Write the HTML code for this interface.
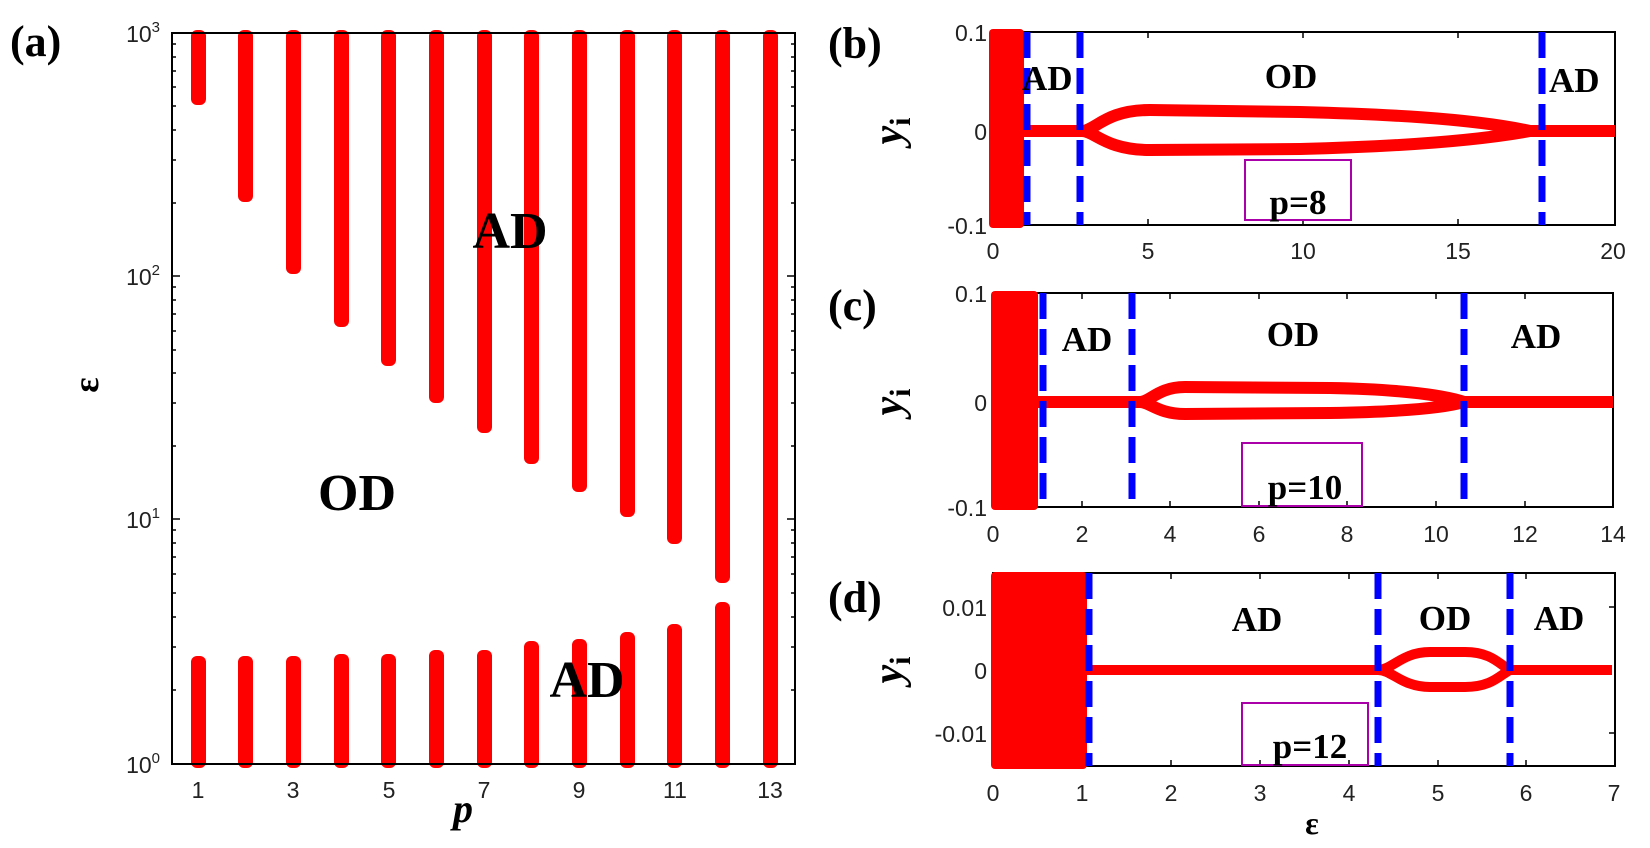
<!DOCTYPE html>
<html><head><meta charset="utf-8"><style>html,body{margin:0;padding:0;background:#fff}svg{display:block}</style></head>
<body>
<svg width="1650" height="848" viewBox="0 0 1650 848" xmlns="http://www.w3.org/2000/svg" font-family="Liberation Sans, sans-serif">
<rect width="1650" height="848" fill="#fff"/>
<!-- Panel a -->
<g fill="#f00">
<rect x="191" y="30" width="15" height="75" rx="6"/>
<rect x="238" y="30" width="15" height="172" rx="6"/>
<rect x="286" y="30" width="15" height="244" rx="6"/>
<rect x="334" y="30" width="15" height="297" rx="6"/>
<rect x="381" y="30" width="15" height="336" rx="6"/>
<rect x="429" y="30" width="15" height="373" rx="6"/>
<rect x="477" y="30" width="15" height="403" rx="6"/>
<rect x="524" y="30" width="15" height="434" rx="6"/>
<rect x="572" y="30" width="15" height="462" rx="6"/>
<rect x="620" y="30" width="15" height="487" rx="6"/>
<rect x="667" y="30" width="15" height="514" rx="6"/>
<rect x="715" y="30" width="15" height="553" rx="6"/>
<rect x="763" y="30" width="15" height="738" rx="6"/>
<rect x="191" y="656" width="15" height="112" rx="6"/>
<rect x="238" y="656" width="15" height="112" rx="6"/>
<rect x="286" y="656" width="15" height="112" rx="6"/>
<rect x="334" y="654" width="15" height="114" rx="6"/>
<rect x="381" y="654" width="15" height="114" rx="6"/>
<rect x="429" y="650" width="15" height="118" rx="6"/>
<rect x="477" y="650" width="15" height="118" rx="6"/>
<rect x="524" y="641" width="15" height="127" rx="6"/>
<rect x="572" y="639" width="15" height="129" rx="6"/>
<rect x="620" y="632" width="15" height="136" rx="6"/>
<rect x="667" y="624" width="15" height="144" rx="6"/>
<rect x="715" y="602" width="15" height="166" rx="6"/>
</g>
<rect x="172" y="33" width="623" height="731" fill="none" stroke="#000" stroke-width="2"/>
<g stroke="#000" stroke-width="1.5">
<path d="M172 276h8M172 519h8M795 276h-8M795 519h-8"/>
<path d="M172 690h4M172 647h4M172 617h4M172 593h4M172 574h4M172 557h4M172 543h4M172 530h4M172 446h4M172 403h4M172 373h4M172 350h4M172 331h4M172 314h4M172 300h4M172 287h4M172 203h4M172 160h4M172 130h4M172 106h4M172 87h4M172 71h4M172 57h4M172 44h4"/>
<path d="M795 690h-4M795 647h-4M795 617h-4M795 593h-4M795 574h-4M795 557h-4M795 543h-4M795 530h-4M795 446h-4M795 403h-4M795 373h-4M795 350h-4M795 331h-4M795 314h-4M795 300h-4M795 287h-4M795 203h-4M795 160h-4M795 130h-4M795 106h-4M795 87h-4M795 71h-4M795 57h-4M795 44h-4"/>
</g>
<g font-size="23" fill="#222" text-anchor="end">
<text x="160" y="42">10<tspan font-size="15" dy="-10">3</tspan></text>
<text x="160" y="285">10<tspan font-size="15" dy="-10">2</tspan></text>
<text x="160" y="528">10<tspan font-size="15" dy="-10">1</tspan></text>
<text x="160" y="773">10<tspan font-size="15" dy="-10">0</tspan></text>
</g>
<g font-size="23" fill="#222" text-anchor="middle">
<text x="198" y="798">1</text><text x="293" y="798">3</text><text x="389" y="798">5</text><text x="484" y="798">7</text><text x="579" y="798">9</text><text x="675" y="798">11</text><text x="770" y="798">13</text>
</g>
<g font-family="Liberation Serif, serif" font-weight="bold" fill="#000">
<text x="10" y="56" font-size="44">(a)</text>
<text x="510" y="248" font-size="52" text-anchor="middle">AD</text>
<text x="357" y="510" font-size="52" text-anchor="middle">OD</text>
<text x="587" y="697" font-size="52" text-anchor="middle">AD</text>
<text transform="translate(98,385) rotate(-90)" font-size="36" text-anchor="middle">ε</text>
<text x="463" y="822" font-size="40" font-style="italic" text-anchor="middle">p</text>
<text x="828" y="58" font-size="44">(b)</text>
<text x="828" y="320" font-size="44">(c)</text>
<text x="828" y="612" font-size="44">(d)</text>
</g>
<!-- y_i labels -->
<g font-family="Liberation Serif, serif" font-weight="bold" font-style="italic" font-size="42" fill="#000">
<text transform="translate(902,131) rotate(-90)" text-anchor="middle">y<tspan font-size="30" dy="8" font-style="normal">i</tspan></text>
<text transform="translate(902,402) rotate(-90)" text-anchor="middle">y<tspan font-size="30" dy="8" font-style="normal">i</tspan></text>
<text transform="translate(902,670) rotate(-90)" text-anchor="middle">y<tspan font-size="30" dy="8" font-style="normal">i</tspan></text>
</g>
<!-- Panel b -->
<g>
<rect x="993" y="32" width="622" height="193" fill="none" stroke="#000" stroke-width="2"/>
<g stroke="#000" stroke-width="1.5"><path d="M1148 32v6M1303 32v6M1458 32v6M1148 225v-6M1303 225v-6M1458 225v-6M1615 131h-6"/></g>
<rect x="989" y="29" width="35" height="199" rx="4" fill="#f00"/>
<path d="M1024 131H1082C1095 131 1105 110 1150 110L1300 112C1380 114 1470 118 1530 131H1615" fill="none" stroke="#f00" stroke-width="12"/>
<path d="M1082 131C1095 131 1105 150 1150 150L1300 149C1380 147 1470 142 1530 131" fill="none" stroke="#f00" stroke-width="12"/>
<g stroke="#00f" stroke-width="7" stroke-dasharray="26 10"><path d="M1027 32V225M1080 32V225M1542 32V225"/></g>
<rect x="1245" y="160" width="106" height="60" fill="none" stroke="#a0a" stroke-width="2"/>
<g font-family="Liberation Serif, serif" font-weight="bold" font-size="35" fill="#000">
<text x="1022" y="90">AD</text><text x="1291" y="88" text-anchor="middle">OD</text><text x="1549" y="92">AD</text>
<text x="1298" y="214" text-anchor="middle">p=8</text></g>
<g font-size="23" fill="#222" text-anchor="end"><text x="987" y="41">0.1</text><text x="987" y="140">0</text><text x="987" y="234">-0.1</text></g>
<g font-size="23" fill="#222" text-anchor="middle"><text x="993" y="259">0</text><text x="1148" y="259">5</text><text x="1303" y="259">10</text><text x="1458" y="259">15</text><text x="1613" y="259">20</text></g>
</g>
<!-- Panel c -->
<g>
<rect x="993" y="293" width="620" height="214" fill="none" stroke="#000" stroke-width="2"/>
<g stroke="#000" stroke-width="1.5"><path d="M1082 293v6M1170 293v6M1259 293v6M1347 293v6M1436 293v6M1525 293v6M1082 507v-6M1170 507v-6M1259 507v-6M1347 507v-6M1436 507v-6M1525 507v-6"/></g>
<rect x="991" y="291" width="47" height="219" rx="4" fill="#f00"/>
<path d="M1038 402H1140C1150 402 1158 387 1185 387L1330 388C1390 389 1440 394 1464 402H1613" fill="none" stroke="#f00" stroke-width="12"/>
<path d="M1140 402C1150 402 1158 414 1185 414L1330 413C1390 412 1440 409 1464 402" fill="none" stroke="#f00" stroke-width="12"/>
<g stroke="#00f" stroke-width="7" stroke-dasharray="26 10"><path d="M1043 293V507M1132 293V507M1464 293V507"/></g>
<rect x="1242" y="443" width="120" height="63" fill="none" stroke="#a0a" stroke-width="2"/>
<g font-family="Liberation Serif, serif" font-weight="bold" font-size="35" fill="#000">
<text x="1087" y="351" text-anchor="middle">AD</text><text x="1293" y="346" text-anchor="middle">OD</text><text x="1536" y="348" text-anchor="middle">AD</text>
<text x="1305" y="499" text-anchor="middle">p=10</text></g>
<g font-size="23" fill="#222" text-anchor="end"><text x="987" y="302">0.1</text><text x="987" y="411">0</text><text x="987" y="516">-0.1</text></g>
<g font-size="23" fill="#222" text-anchor="middle"><text x="993" y="542">0</text><text x="1082" y="542">2</text><text x="1170" y="542">4</text><text x="1259" y="542">6</text><text x="1347" y="542">8</text><text x="1436" y="542">10</text><text x="1525" y="542">12</text><text x="1613" y="542">14</text></g>
</g>
<!-- Panel d -->
<g>
<rect x="993" y="573" width="622" height="193" fill="none" stroke="#000" stroke-width="2"/>
<g stroke="#000" stroke-width="1.5"><path d="M1171 573v6M1260 573v6M1349 573v6M1438 573v6M1526 573v6M1171 766v-6M1260 766v-6M1349 766v-6M1438 766v-6M1526 766v-6M1615 607h-6M1615 733h-6"/></g>
<rect x="991" y="572" width="96" height="197" rx="4" fill="#f00"/>
<path d="M1087 670H1378C1392 670 1402 652 1430 652L1465 652C1492 652 1500 665 1510 670H1612" fill="none" stroke="#f00" stroke-width="10"/>
<path d="M1378 670C1392 670 1402 687 1430 687L1465 687C1492 687 1500 675 1510 670" fill="none" stroke="#f00" stroke-width="10"/>
<g stroke="#00f" stroke-width="7" stroke-dasharray="26 10"><path d="M1089 573V766M1378 573V766M1510 573V766"/></g>
<rect x="1242" y="703" width="126" height="62" fill="none" stroke="#a0a" stroke-width="2"/>
<g font-family="Liberation Serif, serif" font-weight="bold" font-size="35" fill="#000">
<text x="1257" y="631" text-anchor="middle">AD</text><text x="1445" y="630" text-anchor="middle">OD</text><text x="1559" y="630" text-anchor="middle">AD</text>
<text x="1310" y="758" text-anchor="middle">p=12</text>
<text x="1312" y="834" font-size="32" text-anchor="middle">ε</text></g>
<g font-size="23" fill="#222" text-anchor="end"><text x="987" y="616">0.01</text><text x="987" y="679">0</text><text x="987" y="742">-0.01</text></g>
<g font-size="23" fill="#222" text-anchor="middle"><text x="993" y="801">0</text><text x="1082" y="801">1</text><text x="1171" y="801">2</text><text x="1260" y="801">3</text><text x="1349" y="801">4</text><text x="1438" y="801">5</text><text x="1526" y="801">6</text><text x="1614" y="801">7</text></g>
</g>
</svg>
</body></html>
